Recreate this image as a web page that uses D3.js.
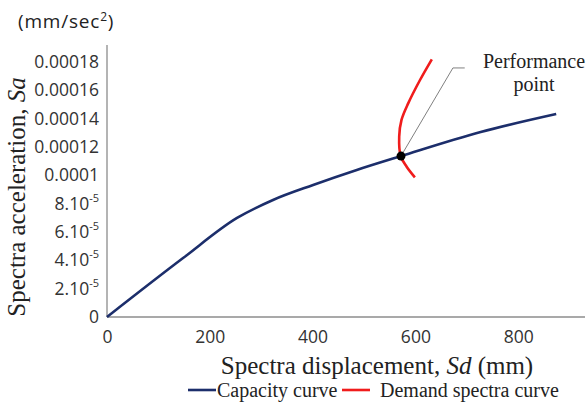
<!DOCTYPE html>
<html>
<head>
<meta charset="utf-8">
<script src="https://cdn.jsdelivr.net/npm/d3@7"></script>
<style>
  body { margin: 0; background: #fff; }
  svg { display: block; }
</style>
</head>
<body>
<div id="chart"></div>
<script>
// Capacity curve: [Sd (mm), Sa]
const capacitySd = [0, 148, 253, 323, 401, 486, 572, 727, 874];
const capacitySa = [0, 4.16e-5, 6.99e-5, 8.26e-5, 9.32e-5, 1.038e-4, 1.136e-4, 1.306e-4, 1.433e-4];

// Demand spectra curve (top to bottom)
const demandSd = [632, 609, 586, 573, 568.5, 571.4, 583, 599];
const demandSa = [1.819e-4, 1.673e-4, 1.508e-4, 1.391e-4, 1.273e-4, 1.136e-4, 1.061e-4, 9.86e-5];

// Performance point
const perfPoint = [572, 1.136e-4];

// Tick values and labels
const xTicks = [0, 200, 400, 600, 800];
const yTicks = [0, 2e-5, 4e-5, 6e-5, 8e-5, 1e-4, 1.2e-4, 1.4e-4, 1.6e-4, 1.8e-4];
const yTickBase = ["0", "2.10", "4.10", "6.10", "8.10", "0.0001", "0.00012", "0.00014", "0.00016", "0.00018"];
const yTickExp = ["", "-5", "-5", "-5", "-5", "", "", "", "", ""];

const width = 587;
const height = 412;

const x = d3.scaleLinear().domain([0, 930]).range([107, 585]);
const y = d3.scaleLinear().domain([0, 0.000192]).range([317, 45]);

const svg = d3.select("#chart").append("svg")
  .attr("width", width)
  .attr("height", height);

const sans = "'Open Sans', 'Noto Sans', sans-serif";
const serif = "'Liberation Serif', 'DejaVu Serif', serif";
const axisGrey = "#8c8c8c";
const blue = "#1c2e6b";
const red = "#f01c1c";

// Axis lines
svg.append("line")
  .attr("x1", x(0)).attr("x2", x(0))
  .attr("y1", y(0)).attr("y2", y(0.000192))
  .attr("stroke", axisGrey).attr("stroke-width", 1.3);
svg.append("line")
  .attr("x1", x(0)).attr("x2", x(930))
  .attr("y1", y(0)).attr("y2", y(0))
  .attr("stroke", axisGrey).attr("stroke-width", 1.3);

// x tick labels
const xAxisG = svg.append("g")
  .attr("transform", `translate(0, ${y(0)})`)
  .call(d3.axisBottom(x).tickValues(xTicks).tickSize(0).tickPadding(14));
xAxisG.select(".domain").remove();
xAxisG.selectAll("text")
  .attr("font-family", sans)
  .attr("font-size", 17.5)
  .attr("fill", "#333");

// y tick labels (with superscript exponents)
const yLabels = svg.append("g").selectAll("text")
  .data(yTicks)
  .join("text")
  .attr("x", 99)
  .attr("y", (d) => y(d) + 6)
  .attr("text-anchor", "end")
  .attr("font-family", sans)
  .attr("font-size", 17.5)
  .attr("fill", "#333");
yLabels.append("tspan").text((d, i) => yTickBase[i]);
yLabels.filter((d, i) => yTickExp[i] !== "")
  .append("tspan")
  .attr("dy", -8)
  .attr("font-size", 11)
  .text((d) => yTickExp[yTicks.indexOf(d)]);

// Capacity curve
const line = d3.line()
  .x((d) => x(d[0]))
  .y((d) => y(d[1]))
  .curve(d3.curveMonotoneX);

svg.append("path")
  .datum(capacitySd.map((v, i) => [v, capacitySa[i]]))
  .attr("d", line)
  .attr("fill", "none")
  .attr("stroke", blue)
  .attr("stroke-width", 2.6);

// Demand curve
const demandLine = d3.line()
  .x((d) => x(d[0]))
  .y((d) => y(d[1]))
  .curve(d3.curveCatmullRom);

svg.append("path")
  .datum(demandSd.map((v, i) => [v, demandSa[i]]))
  .attr("d", demandLine)
  .attr("fill", "none")
  .attr("stroke", red)
  .attr("stroke-width", 2.6);

// Leader line to annotation
svg.append("polyline")
  .attr("points", [
    [x(perfPoint[0]), y(perfPoint[1])],
    [x(673), y(0.0001758)],
    [x(696), y(0.0001758)]
  ].map((p) => p.join(",")).join(" "))
  .attr("fill", "none")
  .attr("stroke", "#808080")
  .attr("stroke-width", 1);

// Performance point
svg.append("circle")
  .attr("cx", x(perfPoint[0]))
  .attr("cy", y(perfPoint[1]))
  .attr("r", 4.5)
  .attr("fill", "#000");

// Annotation text
const note = svg.append("text")
  .attr("x", 534)
  .attr("y", 68)
  .attr("text-anchor", "middle")
  .attr("font-family", serif)
  .attr("font-size", 20)
  .attr("fill", "#222");
note.append("tspan").attr("x", 534).text("Performance");
note.append("tspan").attr("x", 534).attr("dy", 23).text("point");

// Unit label
const unit = svg.append("text")
  .attr("x", 18)
  .attr("y", 28)
  .attr("font-family", sans)
  .attr("font-size", 19)
  .attr("letter-spacing", 0.8)
  .attr("fill", "#222");
unit.append("tspan").text("(mm/sec");
unit.append("tspan").attr("dy", -7).attr("font-size", 12).text("2");
unit.append("tspan").attr("dy", 7).text(")");

// y axis title
const yTitle = svg.append("text")
  .attr("transform", "translate(25, 197) rotate(-90)")
  .attr("text-anchor", "middle")
  .attr("font-family", serif)
  .attr("font-size", 25)
  .attr("fill", "#222");
yTitle.append("tspan").text("Spectra acceleration, ");
yTitle.append("tspan").attr("font-style", "italic").text("Sa");

// x axis title
const xTitle = svg.append("text")
  .attr("x", 377)
  .attr("y", 374)
  .attr("text-anchor", "middle")
  .attr("font-family", serif)
  .attr("font-size", 25)
  .attr("fill", "#222");
xTitle.append("tspan").text("Spectra displacement, ");
xTitle.append("tspan").attr("font-style", "italic").text("Sd");
xTitle.append("tspan").text(" (mm)");

// Legend
const legendItems = [
  { name: "Capacity curve", color: blue, x0: 188 },
  { name: "Demand spectra curve", color: red, x0: 342 }
];
const legend = svg.append("g");
legend.selectAll("line")
  .data(legendItems)
  .join("line")
  .attr("x1", (d) => d.x0)
  .attr("x2", (d) => d.x0 + 28)
  .attr("y1", 390)
  .attr("y2", 390)
  .attr("stroke", (d) => d.color)
  .attr("stroke-width", 2.6);
legend.selectAll("text")
  .data(legendItems)
  .join("text")
  .attr("x", (d, i) => d.x0 + (i === 0 ? 29 : 38))
  .attr("y", 397)
  .attr("font-family", serif)
  .attr("font-size", 20)
  .attr("fill", "#222")
  .text((d) => d.name);
</script>
</body>
</html>
